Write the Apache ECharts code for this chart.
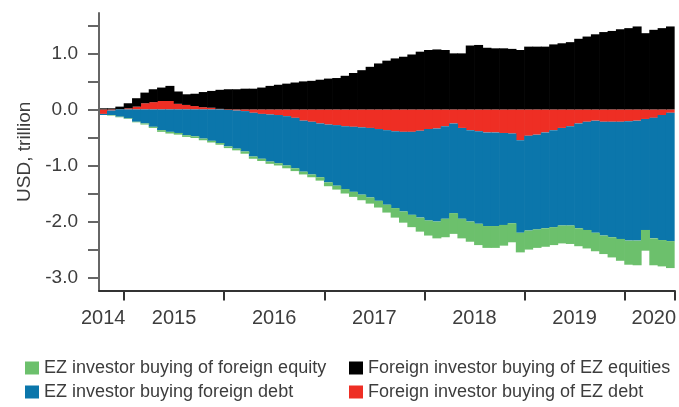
<!DOCTYPE html>
<html><head><meta charset="utf-8">
<script src="https://cdn.jsdelivr.net/npm/echarts@6/dist/echarts.min.js"></script>
<style>html,body{margin:0;padding:0;background:#fff}#c{width:679px;height:407px}</style>
</head><body><div id="c"></div>
<script>
const months = ['2014-10','2014-11','2014-12',
'2015-01','2015-02','2015-03','2015-04','2015-05','2015-06','2015-07','2015-08','2015-09','2015-10','2015-11','2015-12',
'2016-01','2016-02','2016-03','2016-04','2016-05','2016-06','2016-07','2016-08','2016-09','2016-10','2016-11','2016-12',
'2017-01','2017-02','2017-03','2017-04','2017-05','2017-06','2017-07','2017-08','2017-09','2017-10','2017-11','2017-12',
'2018-01','2018-02','2018-03','2018-04','2018-05','2018-06','2018-07','2018-08','2018-09','2018-10','2018-11','2018-12',
'2019-01','2019-02','2019-03','2019-04','2019-05','2019-06','2019-07','2019-08','2019-09','2019-10','2019-11','2019-12',
'2020-01','2020-02','2020-03','2020-04','2020-05','2020-06'];

// Foreign investor buying of EZ debt
const ezDebtForeign = [-0.08,-0.02,0,0.02,0.05,0.11,0.13,0.15,0.15,0.10,0.08,0.06,0.04,0.03,0.01,
-0.01,-0.02,-0.03,-0.06,-0.08,-0.09,-0.10,-0.12,-0.15,-0.20,-0.22,-0.25,
-0.27,-0.28,-0.30,-0.31,-0.32,-0.33,-0.35,-0.37,-0.39,-0.40,-0.40,-0.38,
-0.35,-0.34,-0.30,-0.25,-0.33,-0.37,-0.39,-0.41,-0.41,-0.42,-0.43,-0.55,
-0.47,-0.45,-0.41,-0.37,-0.33,-0.30,-0.25,-0.22,-0.20,-0.22,-0.22,-0.22,
-0.21,-0.20,-0.17,-0.15,-0.10,-0.06];
// Foreign investor buying of EZ equities
const ezEquityForeign = [0.02,0.02,0.05,0.09,0.15,0.19,0.23,0.24,0.27,0.22,0.19,0.22,0.27,0.30,0.34,
0.36,0.36,0.37,0.37,0.39,0.42,0.44,0.46,0.48,0.50,0.51,0.53,
0.55,0.56,0.60,0.65,0.70,0.76,0.82,0.87,0.91,0.94,0.98,1.03,
1.06,1.07,1.06,1.00,1.00,1.14,1.15,1.10,1.09,1.09,1.08,1.06,
1.12,1.12,1.12,1.16,1.18,1.20,1.26,1.30,1.34,1.38,1.40,1.43,
1.45,1.48,1.36,1.42,1.45,1.48];
// EZ investor buying foreign debt
const foreignDebtEZ = [-0.02,-0.08,-0.13,-0.16,-0.22,-0.25,-0.31,-0.37,-0.40,-0.42,-0.46,-0.48,-0.52,-0.56,-0.60,
-0.65,-0.68,-0.72,-0.78,-0.80,-0.84,-0.86,-0.88,-0.90,-0.91,-0.94,-0.96,
-1.03,-1.08,-1.12,-1.16,-1.20,-1.24,-1.28,-1.33,-1.37,-1.42,-1.48,-1.55,
-1.63,-1.66,-1.65,-1.60,-1.62,-1.63,-1.65,-1.67,-1.67,-1.64,-1.60,-1.65,
-1.69,-1.69,-1.71,-1.73,-1.74,-1.77,-1.87,-1.93,-2.00,-2.03,-2.06,-2.09,
-2.13,-2.14,-1.98,-2.15,-2.23,-2.29];
// EZ investor buying of foreign equity
const foreignEquityEZ = [0,-0.01,-0.01,-0.01,-0.01,-0.02,-0.02,-0.03,-0.03,-0.03,-0.03,-0.03,-0.03,-0.03,-0.03,
-0.03,-0.03,-0.04,-0.04,-0.04,-0.04,-0.04,-0.05,-0.05,-0.05,-0.05,-0.06,
-0.07,-0.07,-0.08,-0.09,-0.10,-0.11,-0.12,-0.14,-0.17,-0.20,-0.22,-0.25,
-0.27,-0.30,-0.33,-0.37,-0.35,-0.36,-0.38,-0.39,-0.39,-0.37,-0.34,-0.35,
-0.34,-0.33,-0.33,-0.32,-0.32,-0.33,-0.32,-0.33,-0.33,-0.33,-0.36,-0.39,
-0.43,-0.44,-0.37,-0.48,-0.47,-0.48];

const yearTicks = ['2014','2015','2016','2017','2018','2019','2020'];
const yearLabelAt = ['2014-10','2015-07','2016-07','2017-07','2018-07','2019-07','2020-04'];
const yTickValues = [-3,-2.5,-2,-1.5,-1,-0.5,0,0.5,1,1.5];
const yLabelValues = [-3,-2,-1,0,1];

const names = {
  green: 'EZ investor buying of foreign equity',
  blue: 'EZ investor buying foreign debt',
  black: 'Foreign investor buying of EZ equities',
  red: 'Foreign investor buying of EZ debt'
};
const colors = {green: '#6cc06c', blue: '#0b76ab', black: '#000000', red: '#ee2e24'};
const FONT = "'Liberation Sans', Arial, sans-serif";
const TXT = '#3d3d3d';

function legendItem(name, left, top) {
  return {left: left, top: top, orient: 'horizontal', itemWidth: 14, itemHeight: 13, icon: 'rect',
    padding: 0, textStyle: {fontFamily: FONT, fontSize: 18, color: TXT}, data: [name]};
}
function bar(name, data, color) {
  return {name: name, type: 'bar', stack: 'all', data: data, barCategoryGap: '0%', barWidth: 9,
    itemStyle: {color: color}, animation: false};
}

const chart = echarts.init(document.getElementById('c'), null, {renderer: 'canvas'});
chart.setOption({
  animation: false,
  grid: {left: 99, width: 583, top: 13, height: 277.5},
  legend: [
    legendItem(names.green, 25, 359),
    legendItem(names.blue, 25, 383),
    legendItem(names.black, 349, 359),
    legendItem(names.red, 349, 383)
  ],
  xAxis: {
    type: 'category', data: months, boundaryGap: true, z: 10,
    axisLine: {onZero: false, lineStyle: {color: '#333', width: 2}},
    axisTick: {show: true, inside: false, alignWithLabel: false, length: 10, lineStyle: {color: '#333', width: 2},
      interval: function (i, v) { const m = (typeof v === 'string') ? v : months[i]; return !!m && m.slice(5) === '01'; }},
    axisLabel: {
      interval: 0, margin: 18, fontFamily: FONT, fontSize: 20, color: TXT,
      formatter: function (v) {
        const k = yearLabelAt.indexOf(v);
        if (k < 0) return '';
        return (k === 0 || k === yearTicks.length - 1) ? '{e|' + yearTicks[k] + '}' : '{m|' + yearTicks[k] + '}';
      },
      rich: {
        e: {fontFamily: FONT, fontSize: 20, color: TXT},
        m: {fontFamily: FONT, fontSize: 20, color: TXT, padding: [0, 8.4, 0, 0]}
      }
    },
    splitLine: {show: false}
  },
  yAxis: {
    type: 'value', min: -3.23, max: 1.72, z: 10,
    name: 'USD, trillion', nameLocation: 'middle', nameGap: 58, nameRotate: 90,
    nameTextStyle: {fontFamily: FONT, fontSize: 19, color: TXT},
    axisLine: {show: true, onZero: false, lineStyle: {color: '#666', width: 2}},
    axisTick: {show: true, length: 11, lineStyle: {color: '#666', width: 2}, customValues: yTickValues},
    axisLabel: {margin: 21, fontFamily: FONT, fontSize: 19, color: TXT, customValues: yLabelValues,
      formatter: function (v) { return v.toFixed(1); }},
    splitLine: {show: false}
  },
  series: [
    bar(names.red, ezDebtForeign, colors.red),
    bar(names.black, ezEquityForeign, colors.black),
    bar(names.blue, foreignDebtEZ, colors.blue),
    bar(names.green, foreignEquityEZ, colors.green)
  ]
});
</script></body></html>
